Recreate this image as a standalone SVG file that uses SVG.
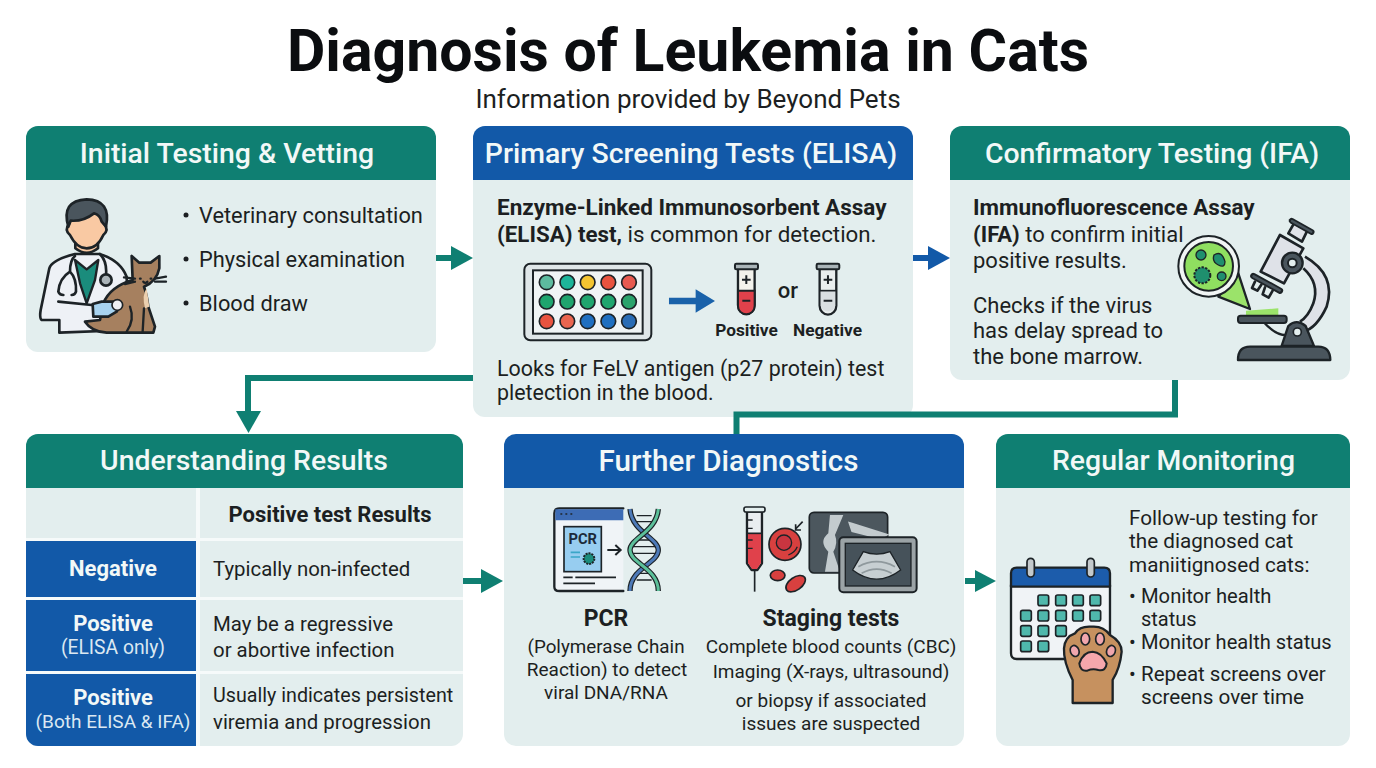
<svg xmlns="http://www.w3.org/2000/svg" width="1376" height="768" viewBox="0 0 1376 768">
<defs>
<style>
text{font-family:Roboto,"Liberation Sans",sans-serif;fill:#1c1f22}
.panel{fill:#e3eeee}
.teal{fill:#0f7f72}
.blue{fill:#1259a8}
.hd{font-size:28.4px;font-weight:500;fill:#f2f8f7;text-anchor:middle}
.b{font-size:22px}
.r{font-size:20.400px}
.f{font-size:20.700px}
.bb{font-size:22.500px;font-weight:700}
.m{text-anchor:middle}
.w{fill:#f2f8f7;text-anchor:middle}
.s{stroke:#1d2327;stroke-width:8;stroke-linejoin:round;stroke-linecap:round}
.t{stroke:#1d2327;stroke-width:7;stroke-linejoin:round;stroke-linecap:round}
.n{fill:none}
.c{fill:none;stroke:#0f7f72;stroke-width:6}
</style>
</defs>
<rect width="1376" height="768" fill="#fff"/>
<text x="688" y="71" text-anchor="middle" font-size="59" font-weight="700" style="fill:#0b0d10">Diagnosis of Leukemia in Cats</text>
<text x="688" y="108" class="m" font-size="26">Information provided by Beyond Pets</text>

<g id="initial-testing">
<rect class="panel" x="26" y="126" width="410" height="226" rx="12"/>
<path class="teal" d="M26 180V138a12 12 0 0 1 12-12H424a12 12 0 0 1 12 12V180Z"/>
<text class="hd" x="227" y="163">Initial Testing &amp; Vetting</text>
<circle cx="186" cy="215" r="2.500" fill="#1c1f22"/><circle cx="186" cy="259" r="2.500" fill="#1c1f22"/><circle cx="186" cy="303" r="2.500" fill="#1c1f22"/>
<text x="199" y="223" font-size="21.800">Veterinary consultation</text>
<text x="199" y="267" font-size="21.800">Physical examination</text>
<text x="199" y="311" font-size="21.800">Blood draw</text>
<g transform="translate(20 180) scale(.3333)">
<path class="s" fill="#eef1f6" d="M118 458V420H65Q58 415 62 390L88 265Q95 240 165 222L238 222Q300 240 320 290L325 450Z"/>
<path class="t" fill="#1a8c7c" d="M165 240L200 268L235 240L225 300L200 370L180 310Z"/>
<path class="s" fill="#f9c9a3" d="M166 170V205Q200 232 234 205V170Z"/>
<path class="s" fill="#f9c9a3" d="M148 130Q132 150 150 165Q170 205 200 205Q232 205 250 165Q268 150 252 130L240 100H160Z"/>
<path class="s" fill="#4a555d" d="M145 140Q122 62 200 58Q275 60 258 140L245 125Q240 105 222 100Q190 125 152 122Z"/>
<path class="s n" d="M165 228Q150 240 150 275Q118 295 115 335Q118 345 130 345M150 275Q170 295 168 335Q165 345 155 345"/>
<path class="s n" d="M240 222Q262 245 258 285"/>
<circle class="s" fill="#aab3b8" cx="258" cy="300" r="17"/>
<path class="s" fill="#a6805f" d="M195 425Q215 455 260 458H400L405 440L385 380Q380 340 372 320Q410 305 418 265L418 228L392 248H358L335 228L338 300Q270 320 250 370L240 420Z"/>
<path fill="#eccfae" d="M380 325Q365 345 375 385L388 380Z"/>
<path class="t n" d="M312 292L345 296M315 312L345 305M405 296L438 290M405 305L438 305M360 296H362M392 296H394M370 305Q376 312 382 305M330 380Q345 420 320 455M372 385L368 455"/>
<path class="s n" d="M115 365L215 375"/>
<path class="s" fill="#a8d3f0" d="M218 372L245 365H285Q305 375 290 395L265 410H220Z"/>
<circle fill="#eef1f6" stroke="#1d2327" stroke-width="5" cx="292" cy="375" r="16"/>
</g>
</g>

<g id="primary-screening">
<rect class="panel" x="473" y="126" width="440" height="291" rx="12"/>
<path class="blue" d="M473 180V138a12 12 0 0 1 12-12H901a12 12 0 0 1 12 12V180Z"/>
<text class="hd" x="691" y="163">Primary Screening Tests (ELISA)</text>
<text class="bb" x="497" y="215">Enzyme-Linked Immunosorbent Assay</text>
<text x="497" y="242" font-size="22.300"><tspan font-weight="700">(ELISA) test,</tspan> is common for detection.</text>
<text x="497" y="376" font-size="21.400">Looks for FeLV antigen (p27 protein) test</text>
<text x="497" y="400" font-size="21.400">pletection in the blood.</text>
<g transform="translate(500 250) scale(.3333)">
<rect x="73" y="41" width="381" height="230" rx="18" fill="#dfe6e8" stroke="#1d2327" stroke-width="6"/>
<rect x="99" y="61" width="329" height="190" fill="#f0f4f5" stroke="#1d2327" stroke-width="6"/>
<g stroke="#1d2327" stroke-width="5">
<circle cx="140" cy="97" r="22" fill="#5dbb9f"/><circle cx="202" cy="97" r="22" fill="#1db59a"/><circle cx="263" cy="97" r="22" fill="#f4c531"/><circle cx="325" cy="97" r="22" fill="#e8533f"/><circle cx="387" cy="97" r="22" fill="#e85a50"/>
<circle cx="140" cy="155" r="22" fill="#1fa56e"/><circle cx="202" cy="155" r="22" fill="#1fa56e"/><circle cx="263" cy="155" r="22" fill="#1fa56e"/><circle cx="325" cy="155" r="22" fill="#1fa56e"/><circle cx="387" cy="155" r="22" fill="#2ba36c"/>
<circle cx="140" cy="214" r="22" fill="#e8533f"/><circle cx="202" cy="214" r="22" fill="#ea6650"/><circle cx="263" cy="214" r="22" fill="#1f6fc0"/><circle cx="325" cy="214" r="22" fill="#1f6fc0"/><circle cx="387" cy="214" r="22" fill="#2a6cb5"/>
</g>
<path d="M507 143H587V118L645 153L587 188V163H507Z" fill="#1a62aa"/>
<path class="t" fill="#f3f2ec" d="M714 55V165a25 27 0 0 0 50 0V55Z"/>
<path fill="#e0414b" stroke="#1d2327" stroke-width="6" d="M714 122H764V168a25 25 0 0 1-50 0Z"/>
<rect x="705" y="41" width="69" height="17" rx="4" fill="#aab4b8" stroke="#1d2327" stroke-width="6"/>
<path d="M739 76V102M726 89H752M727 152H751" stroke="#1d2327" stroke-width="6" fill="none"/>
<path class="t" fill="#e9eeee" d="M959 55V167a25 27 0 0 0 50 0V55Z"/>
<path fill="#d9dfe1" d="M962 122H1006V168a23 23 0 0 1-44 0Z"/>
<path d="M959 122H1009" stroke="#1d2327" stroke-width="5"/>
<rect x="950" y="41" width="68" height="17" rx="4" fill="#aab4b8" stroke="#1d2327" stroke-width="6"/>
<path d="M984 76V102M971 89H997M971 152H997" stroke="#1d2327" stroke-width="6" fill="none"/>
</g>
<text x="788" y="298" class="m" font-size="22" font-weight="500">or</text>
<text x="746.500" y="336" class="m" font-size="17.300" font-weight="700">Positive</text>
<text x="827.500" y="336" class="m" font-size="17.300" font-weight="700">Negative</text>
</g>

<g id="confirmatory-testing">
<rect class="panel" x="950" y="126" width="400" height="254" rx="12"/>
<path class="teal" d="M950 180V138a12 12 0 0 1 12-12H1338a12 12 0 0 1 12 12V180Z"/>
<text class="hd" x="1152" y="163">Confirmatory Testing (IFA)</text>
<text class="bb" x="973" y="215">Immunofluorescence Assay</text>
<text class="b" x="973" y="242"><tspan font-weight="700">(IFA)</tspan> to confirm initial</text>
<text class="b" x="973" y="268">positive results.</text>
<text class="b" x="973" y="313">Checks if the virus</text>
<text class="b" x="973" y="338">has delay spread to</text>
<text class="b" x="973" y="364">the bone marrow.</text>
<g transform="translate(1140 200) scale(.3333)">
<path d="M318 332L415 325L415 345H318Z" fill="#9be36a"/>
<path d="M495 170Q590 225 560 320Q530 385 490 395" fill="#dfe2e8" stroke="#1d2327" stroke-width="8"/>
<path d="M490 205Q540 250 520 310Q505 350 480 365" fill="#e3eeee" stroke="#1d2327" stroke-width="8"/>
<path d="M370 365Q410 410 445 405" fill="none" stroke="#1d2327" stroke-width="7"/>
<path class="s" fill="#dfe2e8" d="M420 105L490 145L432 250L362 215Z"/>
<path class="s" fill="#dfe2e8" d="M445 100L462 70L502 92L486 125Z"/>
<path d="M455 62L515 96" stroke="#1d2327" stroke-width="17" stroke-linecap="round"/>
<path d="M456 63L514 95" stroke="#4a555d" stroke-width="7" stroke-linecap="round"/>
<path class="s" fill="#e3eeee" d="M345 245L336 264L352 272L364 254M375 262L368 283L386 293L398 272"/>
<path d="M340 228L420 272" stroke="#1d2327" stroke-width="19" stroke-linecap="round"/>
<path d="M341 229L419 271" stroke="#4a555d" stroke-width="8" stroke-linecap="round"/>
<circle cx="457" cy="189" r="31" fill="#4a555d" stroke="#1d2327" stroke-width="7"/>
<circle cx="457" cy="189" r="13" fill="#e3eeee" stroke="#1d2327" stroke-width="6"/>
<rect x="294" y="347" width="146" height="22" rx="8" fill="#4a555d" stroke="#1d2327" stroke-width="6"/>
<path class="t" fill="#4a555d" d="M425 438L445 378Q470 355 497 378L522 438Z"/>
<circle cx="472" cy="396" r="12" fill="#e3eeee" stroke="#1d2327" stroke-width="5"/>
<path class="t" fill="#4a555d" d="M294 480Q294 440 330 440H535Q570 440 571 480Z"/>
<path class="t" fill="#9be36a" d="M235 290L330 327L295 220Z"/>
<circle cx="206" cy="199" r="91" fill="#f1f5f5" stroke="#1d2327" stroke-width="6"/>
<circle cx="206" cy="199" r="73" fill="#8fdf60" stroke="#1d2327" stroke-width="6"/>
<circle cx="183" cy="165" r="15" fill="#1f8f6e" stroke="#1d2327" stroke-width="4"/>
<path d="M222 165Q245 150 255 185Q255 205 235 195Q215 185 222 165Z" fill="#1f8f6e" stroke="#1d2327" stroke-width="4"/>
<circle cx="187" cy="226" r="24" fill="#1f8f6e" stroke="#1d2327" stroke-width="6" stroke-dasharray="7 4"/>
<circle cx="245" cy="229" r="13" fill="#1f8f6e" stroke="#1d2327" stroke-width="4"/>
</g>
</g>

<g id="understanding-results">
<rect class="panel" x="26" y="434" width="437" height="312" rx="12"/>
<path class="teal" d="M26 488V446a12 12 0 0 1 12-12H451a12 12 0 0 1 12 12V488Z"/>
<text class="hd" x="244" y="470">Understanding Results</text>
<path fill="#f6fafa" d="M196 488h4V746h-4ZM26 538H463V541H26ZM26 597H463V600H26ZM26 671H463V674H26Z"/>
<path class="blue" d="M26 541H196V597H26ZM26 600H196V671H26ZM26 674H196V746H38a12 12 0 0 1-12-12Z"/>
<text x="330" y="522" class="m" font-size="22" font-weight="700">Positive test Results</text>
<text x="113" y="576" class="w" font-size="22" font-weight="700" style="fill:#f2f8f7">Negative</text>
<text x="113" y="631" class="w" font-size="22" font-weight="700" style="fill:#f2f8f7">Positive</text>
<text x="113" y="654" class="w" font-size="19.300" style="fill:#dbe8f2">(ELISA only)</text>
<text x="113" y="705" class="w" font-size="22" font-weight="700" style="fill:#f2f8f7">Positive</text>
<text x="113" y="728" class="w" font-size="19" style="fill:#dbe8f2">(Both ELISA &amp; IFA)</text>
<text class="r" x="213" y="576">Typically non-infected</text>
<text class="r" x="213" y="631">May be a regressive</text>
<text class="r" x="213" y="657">or abortive infection</text>
<text x="213" y="702" font-size="19.700">Usually indicates persistent</text>
<text class="r" x="213" y="729">viremia and progression</text>
</g>

<g id="further-diagnostics">
<rect class="panel" x="504" y="434" width="460" height="312" rx="12"/>
<path class="blue" d="M504 488V446a12 12 0 0 1 12-12H952a12 12 0 0 1 12 12V488Z"/>
<text x="728.500" y="471" font-size="29.600" font-weight="500" class="w" style="fill:#f2f8f7">Further Diagnostics</text>
<text x="606" y="626" class="m" font-size="23" font-weight="700">PCR</text>
<text class="m" x="606" y="653" font-size="18.800">(Polymerase Chain</text>
<text class="m" x="607" y="676" font-size="19">Reaction) to detect</text>
<text class="m" x="606" y="699" font-size="19">viral DNA/RNA</text>
<text x="831" y="626" class="m" font-size="23" font-weight="700">Staging tests</text>
<text class="m" x="831" y="653" font-size="19">Complete blood counts (CBC)</text>
<text class="m" x="831" y="678" font-size="19">Imaging (X-rays, ultrasound)</text>
<text class="m" x="831" y="707" font-size="19">or biopsy if associated</text>
<text class="m" x="831" y="730" font-size="19">issues are suspected</text>
<g transform="translate(530 495) scale(.3333)">
<path class="t" fill="#f0f4f7" d="M280 40H88Q73 40 73 55V275Q73 288 88 288H280"/>
<path fill="#3d6cb5" d="M76 43H280V76H76Z"/>
<path d="M93 57h2M108 57h2M123 57h2" stroke="#1d2327" stroke-width="5" stroke-linecap="round"/>
<rect x="102" y="95" width="112" height="135" fill="#97cdf0" stroke="#1d2327" stroke-width="5"/>
<text x="158" y="147" class="m" font-size="44" font-weight="700" style="fill:#1d2a3a">PCR</text>
<path d="M122 172H150M122 186H150" stroke="#3aa6c8" stroke-width="5"/>
<circle cx="177" cy="191" r="16" fill="#1a8c7c" stroke="#1d2327" stroke-width="6" stroke-dasharray="6 3"/>
<path d="M232 165H270M256 150L272 165L256 180" fill="none" stroke="#1d2327" stroke-width="6"/>
<path d="M100 247H128M136 247H258M100 265H195" stroke="#1d2327" stroke-width="5"/>
<path d="M320 62H365M312 80H372M300 155H385M305 175H380M312 235H372M320 255H365M310 135H375" stroke="#1d2327" stroke-width="4"/>
<path d="M300 42C305 110 385 130 385 165C385 205 300 220 300 288" fill="none" stroke="#1d2327" stroke-width="16"/>
<path d="M300 42C305 110 385 130 385 165C385 205 300 220 300 288" fill="none" stroke="#4d7ab8" stroke-width="9"/>
<path d="M385 42C380 110 300 130 300 165C300 205 385 220 385 288" fill="none" stroke="#1d2327" stroke-width="16"/>
<path d="M385 42C380 110 300 130 300 165C300 205 385 220 385 288" fill="none" stroke="#5cc09a" stroke-width="9"/>
<path class="t" fill="#e9edf0" d="M651 50V205L665 225H682L696 205V50Z"/>
<path fill="#e0414b" d="M654 115H693V204L681 222H666L654 204Z"/>
<path d="M654 115H693" stroke="#1d2327" stroke-width="5"/>
<path d="M652 75H668M652 100H668M652 135H668M652 160H668" stroke="#1d2327" stroke-width="4"/>
<rect x="642" y="36" width="63" height="15" rx="6" fill="#e3eeee" stroke="#1d2327" stroke-width="5"/>
<path d="M674 222V290" stroke="#1d2327" stroke-width="5"/>
<circle cx="765" cy="148" r="48" fill="#d8403f" stroke="#1d2327" stroke-width="5"/>
<circle cx="762" cy="143" r="23" fill="#c93540" stroke="#1d2327" stroke-width="4"/>
<path d="M775 180Q795 172 802 155" stroke="#1d2327" stroke-width="4" fill="none"/>
<path d="M818 80L797 102M797 88V105H813" fill="none" stroke="#1d2327" stroke-width="5"/>
<ellipse cx="743" cy="241" rx="22" ry="16" fill="#d8403f" stroke="#1d2327" stroke-width="5"/>
<ellipse cx="797" cy="266" rx="33" ry="19" transform="rotate(-35 797 266)" fill="#d8403f" stroke="#1d2327" stroke-width="5"/>
<rect x="838" y="52" width="235" height="182" rx="14" fill="#4c575e" stroke="#1d2327" stroke-width="5"/>
<path d="M900 60H940L915 120Q925 145 910 170L930 230H885L895 170Q865 140 895 115Z" fill="#c3cbce"/>
<path d="M965 90L1060 120L1050 125L970 105Z" fill="#c3cbce" stroke="#c3cbce" stroke-width="14"/>
<rect x="928" y="127" width="232" height="165" rx="12" fill="#9ba3a6" stroke="#1d2327" stroke-width="6"/>
<rect x="946" y="145" width="197" height="128" fill="#46525a" stroke="#1d2327" stroke-width="4"/>
<path d="M1000 170Q1040 185 1080 170L1112 225Q1040 280 968 225Z" fill="#c7cfd2" stroke="#1d2327" stroke-width="4"/>
<path d="M985 215Q1040 185 1095 215M995 235Q1040 210 1085 235" fill="none" stroke="#8f999d" stroke-width="5"/>
</g>
</g>

<g id="regular-monitoring">
<rect class="panel" x="996" y="434" width="354" height="312" rx="12"/>
<path class="teal" d="M996 488V446a12 12 0 0 1 12-12H1338a12 12 0 0 1 12 12V488Z"/>
<text class="hd" x="1173.500" y="470">Regular Monitoring</text>
<text class="f" x="1129" y="525">Follow-up testing for</text>
<text class="f" x="1129" y="548">the diagnosed cat</text>
<text class="f" x="1129" y="572">maniitignosed cats:</text>
<text x="1129" y="603" font-size="20">•</text><text x="1141" y="603" font-size="20.200">Monitor health</text>
<text x="1141" y="626" font-size="20">status</text>
<text x="1129" y="649" font-size="20">•</text><text x="1141" y="649" font-size="20.100">Monitor health status</text>
<text x="1129" y="681" font-size="20">•</text><text x="1141" y="681" font-size="20.500">Repeat screens over</text>
<text class="f" x="1141" y="704">screens over time</text>
<g transform="translate(1000 555) scale(.3333)">
<path class="t" fill="#f0f3f6" d="M33 90V295Q33 312 50 312H310Q330 312 330 295V90Z"/>
<path class="t" fill="#1c5cab" d="M33 95V55Q33 38 50 38H313Q330 38 330 55V95Z"/>
<rect x="81" y="10" width="22" height="56" rx="11" fill="#c3c9cc" stroke="#1d2327" stroke-width="5"/>
<rect x="261" y="10" width="22" height="56" rx="11" fill="#c3c9cc" stroke="#1d2327" stroke-width="5"/>
<g fill="#4fb8ac" stroke="#1d2327" stroke-width="5">
<rect x="114" y="120" width="32" height="32" rx="6"/><rect x="167" y="120" width="32" height="32" rx="6"/><rect x="218" y="120" width="32" height="32" rx="6"/><rect x="270" y="120" width="32" height="32" rx="6"/>
<rect x="62" y="166" width="32" height="32" rx="6"/><rect x="114" y="166" width="32" height="32" rx="6"/><rect x="167" y="166" width="32" height="32" rx="6"/><rect x="218" y="166" width="32" height="32" rx="6"/><rect x="270" y="166" width="32" height="32" rx="6"/>
<rect x="62" y="212" width="32" height="32" rx="6"/><rect x="114" y="212" width="32" height="32" rx="6"/><rect x="167" y="212" width="32" height="32" rx="6"/>
<rect x="62" y="258" width="32" height="32" rx="6"/><rect x="114" y="258" width="32" height="32" rx="6"/>
</g>
<path class="t" fill="#c6915f" d="M218 444V375Q190 320 192 280Q195 245 225 235Q240 212 275 215Q310 212 330 240Q365 260 365 290Q360 340 338 375V444Z"/>
<path stroke="#1d2327" stroke-width="6" fill="#f5a7ac" d="M238 325Q250 290 278 290Q305 292 320 325Q318 350 295 345Q278 340 262 347Q240 350 238 325Z"/>
<ellipse cx="224" cy="288" rx="13" ry="17" fill="#f0a6ad" stroke="#1d2327" stroke-width="5" transform="rotate(-20 224 288)"/>
<ellipse cx="256" cy="252" rx="13" ry="18" fill="#f0a6ad" stroke="#1d2327" stroke-width="5"/>
<ellipse cx="300" cy="252" rx="13" ry="18" fill="#f0a6ad" stroke="#1d2327" stroke-width="5"/>
<ellipse cx="333" cy="288" rx="13" ry="17" fill="#f0a6ad" stroke="#1d2327" stroke-width="5" transform="rotate(20 333 288)"/>
</g>
</g>

<g id="connectors">
<path class="c" d="M473 378H248V414"/>
<path class="teal" d="M236 411H261L248.500 433Z"/>
<path class="c" d="M1175 380V414.500H736.500V434"/>
<path class="c" d="M436 258H456"/><path class="teal" d="M451 246L473 258L451 270Z"/>
<path fill="none" stroke="#1259a8" stroke-width="6" d="M913 258H933"/><path class="blue" d="M928 246L950 258L928 270Z"/>
<path class="c" d="M463 581H485"/><path class="teal" d="M481 569L503 581L481 593Z"/>
<path class="c" d="M965 581H977"/><path class="teal" d="M975 570L996 581L975 592Z"/>
</g>
</svg>
